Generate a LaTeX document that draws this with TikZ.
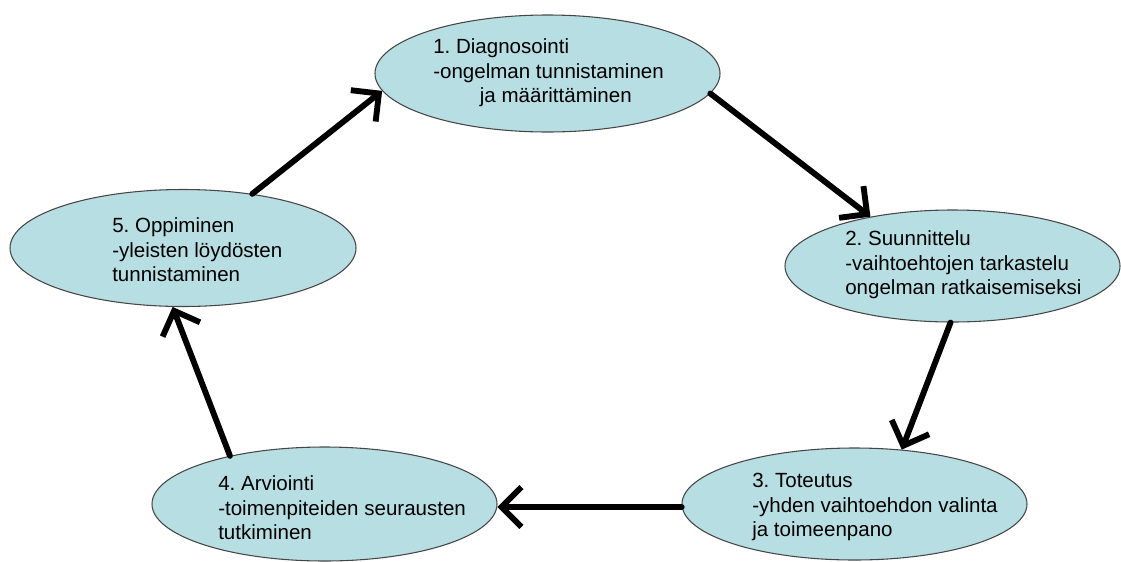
\documentclass[tikz,border=0pt]{standalone}
\usepackage{fontspec}
\setmainfont{Liberation Sans}
\usepackage{xcolor}
\usetikzlibrary{shapes.geometric,arrows.meta}
\definecolor{stagefill}{RGB}{183,222,226}
\definecolor{stageline}{RGB}{70,70,70}
\frenchspacing

\begin{document}
\begin{tikzpicture}[x=0.75pt,y=-0.75pt,
  stage/.style={ellipse,draw=stageline,fill=stagefill,line width=0.8pt,inner sep=0pt},
  txt/.style={anchor=west,align=left,inner sep=0pt,font=\fontsize{15.4}{18.4}\selectfont},
  arr/.style={line width=4.4pt,line cap=round,line join=round,-{Straight Barb[length=15pt,width=30pt]}}]
\useasboundingbox(0,0)rectangle(1121,561);
\node[stage,minimum width=258.75pt,minimum height=87.75pt](e1)at(547.5,73.5){};
\node[stage,minimum width=251.25pt,minimum height=84pt](e2)at(952.5,266){};
\node[stage,minimum width=258.75pt,minimum height=84pt](e3)at(854.5,504){};
\node[stage,minimum width=258.75pt,minimum height=85.5pt](e4)at(324.5,504){};
\node[stage,minimum width=259.5pt,minimum height=87.75pt](e5)at(183,248){};
\node[txt](t1)at(433,73){1. Diagnosointi\\-ongelman tunnistaminen\\\hspace*{35pt}ja määrittäminen};
\node[txt](t2)at(845,265){2. Suunnittelu\\-vaihtoehtojen tarkastelu\\ongelman ratkaisemiseksi};
\node[txt](t3)at(752,507){3. Toteutus\\-yhden vaihtoehdon valinta\\ja toimeenpano};
\node[txt](t4)at(218,508){4. Arviointi\\-toimenpiteiden seurausten\\tutkiminen};
\node[txt](t5)at(112,250){5. Oppiminen\\-yleisten löydösten\\tunnistaminen};
\draw[arr](e5.38)--(e1.186);
\draw[arr](e1.353)--(e2.149);
\draw[arr](e2.268)--(e3.49);
\draw[arr](e3.181)--(e4.359);
\draw[arr](e4.153)--(e5.260);
\end{tikzpicture}
\end{document}
